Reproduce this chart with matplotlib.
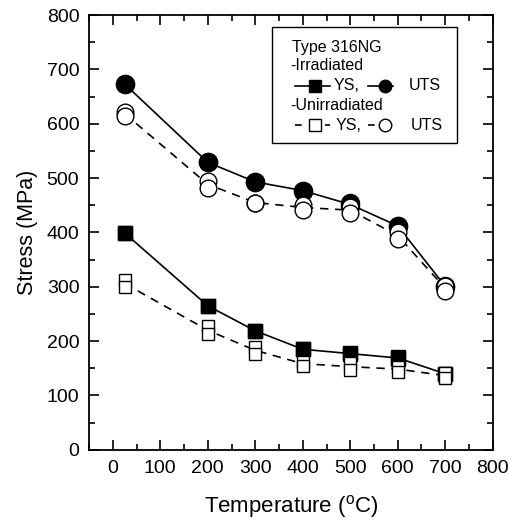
import matplotlib
matplotlib.use("Agg")
import matplotlib.pyplot as plt
import numpy as np
from matplotlib.patches import Rectangle
from matplotlib.lines import Line2D
from matplotlib.ticker import MultipleLocator

plt.rcParams["font.family"] = ["Liberation Sans", "DejaVu Sans"]
plt.rcParams["mathtext.default"] = "regular"

# test temperatures (C)
temps = [25, 200, 300, 400, 500, 600, 700]

# irradiated, one or two specimens per temperature
irr_ys_a = [399, 265, 219, 185, 178, 170, 140]
irr_ys_b = [399, 265, 219, 185, 176, 168, 140]
irr_uts_a = [673, 529, 493, 477, 454, 412, 302]
irr_uts_b = [673, 529, 493, 477, 449, 412, 300]

# unirradiated, two specimens per temperature
unirr_ys_a = [313, 227, 190, 162, 159, 153, 141]
unirr_ys_b = [299, 213, 176, 155, 147, 144, 132]
unirr_uts_a = [622, 495, 455, 451, 446, 400, 302]
unirr_uts_b = [615, 482, 455, 441, 436, 388, 293]

fig = plt.figure(figsize=(5.09, 5.2), dpi=100)
ax = fig.add_axes([0.175, 0.135, 0.793, 0.836])

DASH = (0, (5, 4))


def series(a, b, marker, ms, filled, ls):
    mean = (np.array(a) + np.array(b)) / 2
    ax.plot(temps, mean, color="black", lw=1.2, linestyle=ls, zorder=2)
    fc = "black" if filled else "white"
    for vals in (a, b):
        ax.plot(temps, vals, linestyle="none", marker=marker, ms=ms,
                mfc=fc, mec="black", mew=1.0, zorder=3 if filled else 4)


series(irr_uts_a, irr_uts_b, "o", 13, True, "-")
series(irr_ys_a, irr_ys_b, "s", 9.5, True, "-")
series(unirr_uts_a, unirr_uts_b, "o", 12, False, DASH)
series(unirr_ys_a, unirr_ys_b, "s", 9, False, DASH)

ax.set_xlim(-50, 800)
ax.set_ylim(0, 800)
ax.xaxis.set_major_locator(MultipleLocator(100))
ax.xaxis.set_minor_locator(MultipleLocator(50))
ax.yaxis.set_major_locator(MultipleLocator(100))
ax.yaxis.set_minor_locator(MultipleLocator(50))
ax.tick_params(which="both", direction="in", top=True, right=True,
               labelsize=14, width=1.2, pad=7)
ax.tick_params(which="major", length=7)
ax.tick_params(which="minor", length=4)
for s in ax.spines.values():
    s.set_linewidth(1.3)

ax.set_xlabel(r"Temperature ($^{o}$C)", fontsize=16, labelpad=12)
ax.set_ylabel("Stress (MPa)", fontsize=15.5, labelpad=6)

# legend box, drawn by hand to keep the Origin-style layout
T = ax.transAxes
ax.add_patch(Rectangle((0.4526, 0.705), 0.4584, 0.268, transform=T,
                       fill=False, lw=1.0, ec="black", zorder=5))
fs = 11.5
ax.text(0.502, 0.926, "Type 316NG", transform=T, fontsize=fs, va="center")
ax.text(0.498, 0.883, "-Irradiated", transform=T, fontsize=fs, va="center")
ax.text(0.498, 0.793, "-Unirradiated", transform=T, fontsize=fs, va="center")

rows = [(0.837, "-", True), (0.747, (0, (4, 5)), False)]
for y, ls, filled in rows:
    fc = "black" if filled else "white"
    for (x0, x1, xm, mk, xt, lab) in [(0.510, 0.597, 0.560, "s", 0.605, "YS,"),
                                      (0.692, 0.754, 0.733, "o", 0.791, "UTS")]:
        ax.add_line(Line2D([x0, x1], [y, y], transform=T, color="black",
                           lw=1.2, linestyle=ls, zorder=6))
        ax.add_line(Line2D([xm], [y], transform=T, marker=mk, ms=9,
                           mfc=fc, mec="black", mew=1.0, linestyle="none",
                           zorder=7))
        ax.text(xt if filled else xt + 0.005, y, lab, transform=T,
                fontsize=fs, va="center")

fig.savefig("out.png", dpi=100)
